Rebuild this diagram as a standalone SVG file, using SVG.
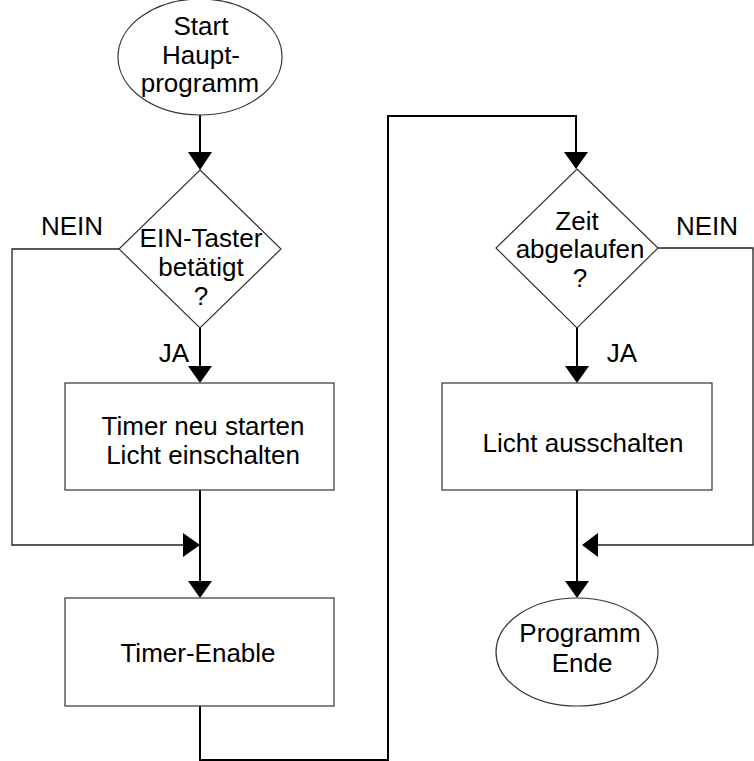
<svg xmlns="http://www.w3.org/2000/svg" width="754" height="761" viewBox="0 0 754 761">
<style>
.shape{fill:#fff;stroke:#333;stroke-width:1.2}
.t{font-family:"Liberation Sans",Arial,sans-serif;font-size:26px;fill:#000;text-anchor:middle}
.flow{fill:none;stroke:#000;stroke-width:2}
.thin{fill:none;stroke:#222;stroke-width:1.3}
.ah{fill:#000;stroke:none}
</style>
<rect width="754" height="761" fill="#fff"/>
<g id="connectors">
<path class="flow" d="M200,115 V160"/>
<polygon class="ah" points="188,152 212,152 200,170"/>
<path class="flow" d="M200,328 V372"/>
<polygon class="ah" points="188,366 212,366 200,383"/>
<path class="thin" d="M119,249 H12 V545 H190"/>
<polygon class="ah" points="183,533 183,557 200,545"/>
<path class="flow" d="M200,490 V588"/>
<polygon class="ah" points="188,581 212,581 200,598"/>
<path class="flow" d="M200,706 V760 H388 V116 H576 V160"/>
<polygon class="ah" points="564,152 588,152 576,169"/>
<path class="thin" d="M658,248 H753 V545 H592"/>
<polygon class="ah" points="598,533 598,557 582,545"/>
<path class="flow" d="M577,328 V372"/>
<polygon class="ah" points="565,366 589,366 577,383"/>
<path class="flow" d="M577,490 V588"/>
<polygon class="ah" points="565,581 589,581 577,598"/>
</g>
<g id="start">
<ellipse class="shape" cx="200" cy="57" rx="82" ry="58"/>
<text class="t" x="201" y="35">Start</text>
<text class="t" x="201" y="64">Haupt-</text>
<text class="t" x="200" y="92">programm</text>
</g>
<g id="decision1">
<polygon class="shape" points="200,170 281,249 200,328 119,249"/>
<text class="t" x="201" y="247">EIN-Taster</text>
<text class="t" x="201" y="276">betätigt</text>
<text class="t" x="201" y="305">?</text>
</g>
<g id="labels1">
<text class="t" x="72" y="235">NEIN</text>
<text class="t" x="174" y="362">JA</text>
</g>
<g id="box1">
<rect class="shape" x="65" y="383" width="269" height="107"/>
<text class="t" x="203" y="435">Timer neu starten</text>
<text class="t" x="203" y="464">Licht einschalten</text>
</g>
<g id="box2">
<rect class="shape" x="65" y="598" width="269" height="108"/>
<text class="t" x="198" y="662">Timer-Enable</text>
</g>
<g id="decision2">
<polygon class="shape" points="577,169 658,248 577,328 496,248"/>
<text class="t" x="577" y="230">Zeit</text>
<text class="t" x="580" y="258">abgelaufen</text>
<text class="t" x="580" y="287">?</text>
</g>
<g id="labels2">
<text class="t" x="707" y="235">NEIN</text>
<text class="t" x="622" y="362">JA</text>
</g>
<g id="box3">
<rect class="shape" x="442" y="383" width="270" height="107"/>
<text class="t" x="583" y="452">Licht ausschalten</text>
</g>
<g id="end">
<ellipse class="shape" cx="577" cy="652" rx="81" ry="54"/>
<text class="t" x="580" y="642">Programm</text>
<text class="t" x="582" y="672">Ende</text>
</g>
</svg>
